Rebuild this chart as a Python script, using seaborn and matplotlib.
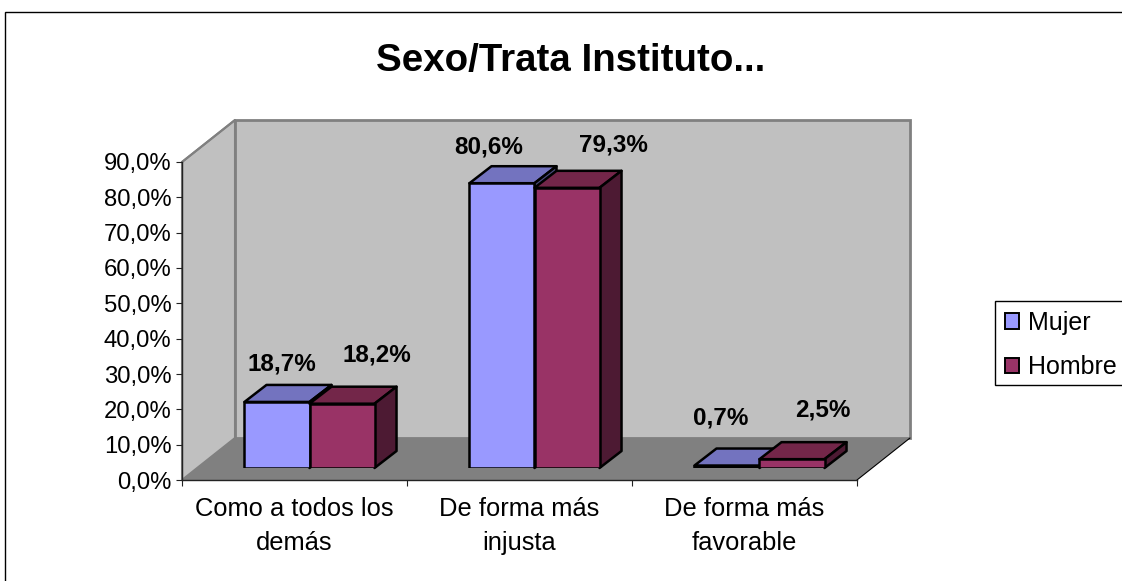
import matplotlib
matplotlib.use("Agg")
import matplotlib.pyplot as plt
import seaborn as sns
import pandas as pd
from matplotlib.patches import Polygon, Rectangle, Patch

CATEGORIES = ["Como a todos los\ndemás", "De forma más\ninjusta", "De forma más\nfavorable"]
SERIES = ["Mujer", "Hombre"]
MUJER = [18.7, 80.6, 0.7]
HOMBRE = [18.2, 79.3, 2.5]
Y_TICKS = [0, 10, 20, 30, 40, 50, 60, 70, 80, 90]

FRONT_COLORS = ["#9999FF", "#993366"]
TOP_COLORS = ["#7373BF", "#732649"]
SIDE_COLORS = ["#4D4D80", "#4D1A33"]

W, H = 1122, 581
# label offsets from the top of each bar (px)
LABEL_OFFSETS = [[(5, 38), (35, 49)], [(-13, 36), (46, 43)], [(-6, 48), (31, 49)]]


def place(fig, left, top, right, bottom):
    return fig.add_axes([left / W, 1 - bottom / H, (right - left) / W, (bottom - top) / H])


sns.set_theme(style="white")
plt.rcParams["font.family"] = ["Liberation Sans", "DejaVu Sans"]

fig = plt.figure(figsize=(W / 100, H / 100), dpi=100)

# pixel canvas for the chart area, walls and floor
bg = fig.add_axes([0, 0, 1, 1], zorder=0)
bg.set_xlim(0, W)
bg.set_ylim(H, 0)
bg.axis("off")
bg.add_patch(Rectangle((5.5, 11.5), W, H, fc="white", ec="black", lw=1))
bg.add_patch(Polygon([(182, 162), (235, 120), (235, 438), (182, 480)], fc="#C0C0C0", ec="#808080", lw=1.5))
bg.add_patch(Rectangle((235, 120), 675, 318, fc="#C0C0C0", ec="#808080", lw=2))
bg.add_patch(Polygon([(182, 480), (857, 480), (910, 438), (235, 438)], fc="#808080", ec="none"))
bg.plot([857, 910], [480, 438], color="black", lw=0.8)
bg.plot([182, 235], [162, 120], color="#808080", lw=1.5)
# legend box runs off the right edge of the picture
bg.add_patch(Rectangle((995.5, 300.5), 140, 84, fc="white", ec="black", lw=1))

# front plane: axis lines, ticks and labels
ax = place(fig, 182, 162, 857, 480)
ax.set_zorder(1)
ax.patch.set_alpha(0)
ax.set_xlim(-0.5, 2.5)
ax.set_ylim(0, 90)
for s in ["top", "right"]:
    ax.spines[s].set_visible(False)
for s in ["left", "bottom"]:
    ax.spines[s].set_color("#222222")
    ax.spines[s].set_linewidth(1)
ax.set_yticks(Y_TICKS, [f"{v:.1f}%".replace(".", ",") for v in Y_TICKS], fontsize=17.2, color="black")
ax.set_xticks([-0.5, 0.5, 1.5, 2.5], [])
ax.set_xticks([0, 1, 2], CATEGORIES, minor=True, fontsize=18.4, color="black", linespacing=1.56)
ax.tick_params(axis="y", which="major", left=True, length=4.5, width=0.8, color="#222222", pad=3)
ax.tick_params(axis="x", which="major", bottom=True, length=4.5, width=0.8, color="#222222")
ax.tick_params(axis="x", which="minor", bottom=False, length=0, pad=12)

# bars stand in the middle of the floor, shifted from the front plane
bars_ax = place(fig, 197, 150, 872, 468)
bars_ax.set_zorder(2)
bars_ax.patch.set_alpha(0)

df = pd.DataFrame({
    "categoria": CATEGORIES * 2,
    "sexo": [SERIES[0]] * 3 + [SERIES[1]] * 3,
    "valor": MUJER + HOMBRE,
})
sns.barplot(data=df, x="categoria", y="valor", hue="sexo", palette=FRONT_COLORS,
            width=0.578, gap=0, saturation=1, edgecolor="black", linewidth=1.8,
            legend=False, ax=bars_ax)
bars_ax.set_xlim(-0.5, 2.5)
bars_ax.set_ylim(0, 90)
bars_ax.axis("off")

# depth faces built from the seaborn bars
DX, DY = 22, 17
to_px = bg.transData.inverted()
fig.canvas.draw()
for s, container in enumerate(bars_ax.containers):
    for c, bar in enumerate(container):
        bb = bar.get_window_extent()
        (x0, y1), (x1, y0) = to_px.transform([(bb.x0, bb.y0), (bb.x1, bb.y1)])
        z = 3 + c * 10 + s * 3
        top = Polygon([(x0, y0), (x1, y0), (x1 + DX, y0 - DY), (x0 + DX, y0 - DY)],
                      fc=TOP_COLORS[s], ec="black", lw=1.8, zorder=z, joinstyle="round",
                      transform=bg.transData, clip_on=False)
        side = Polygon([(x1, y0), (x1 + DX, y0 - DY), (x1 + DX, y1 - DY), (x1, y1)],
                       fc=SIDE_COLORS[s], ec="black", lw=1.8, zorder=z, joinstyle="round",
                       transform=bg.transData, clip_on=False)
        bars_ax.add_patch(top)
        bars_ax.add_patch(side)
        bar.set_zorder(z + 1)
        ox, oy = LABEL_OFFSETS[c][s]
        value = (MUJER, HOMBRE)[s][c]
        bars_ax.text((x0 + x1) / 2 + ox, y0 - oy, f"{value:.1f}%".replace(".", ","),
                     transform=bg.transData, ha="center", va="center", fontsize=17.5,
                     fontweight="bold", color="black", zorder=100, clip_on=False)

fig.text(571 / W, 1 - 61 / H, "Sexo/Trata Instituto...", ha="center", va="center",
         fontsize=27.7, fontweight="bold", color="black")

handles = [Patch(fc=FRONT_COLORS[i], ec="black", lw=1.4, label=SERIES[i]) for i in range(2)]
leg = fig.legend(handles=handles, loc="upper left", bbox_to_anchor=(993 / W, 1 - 299 / H),
                 borderaxespad=0, fontsize=18, frameon=False, labelcolor="black",
                 handlelength=0.56, handleheight=0.56, handletextpad=0.37, labelspacing=0.82,
                 borderpad=0.47)

fig.savefig("out.png", dpi=100)
